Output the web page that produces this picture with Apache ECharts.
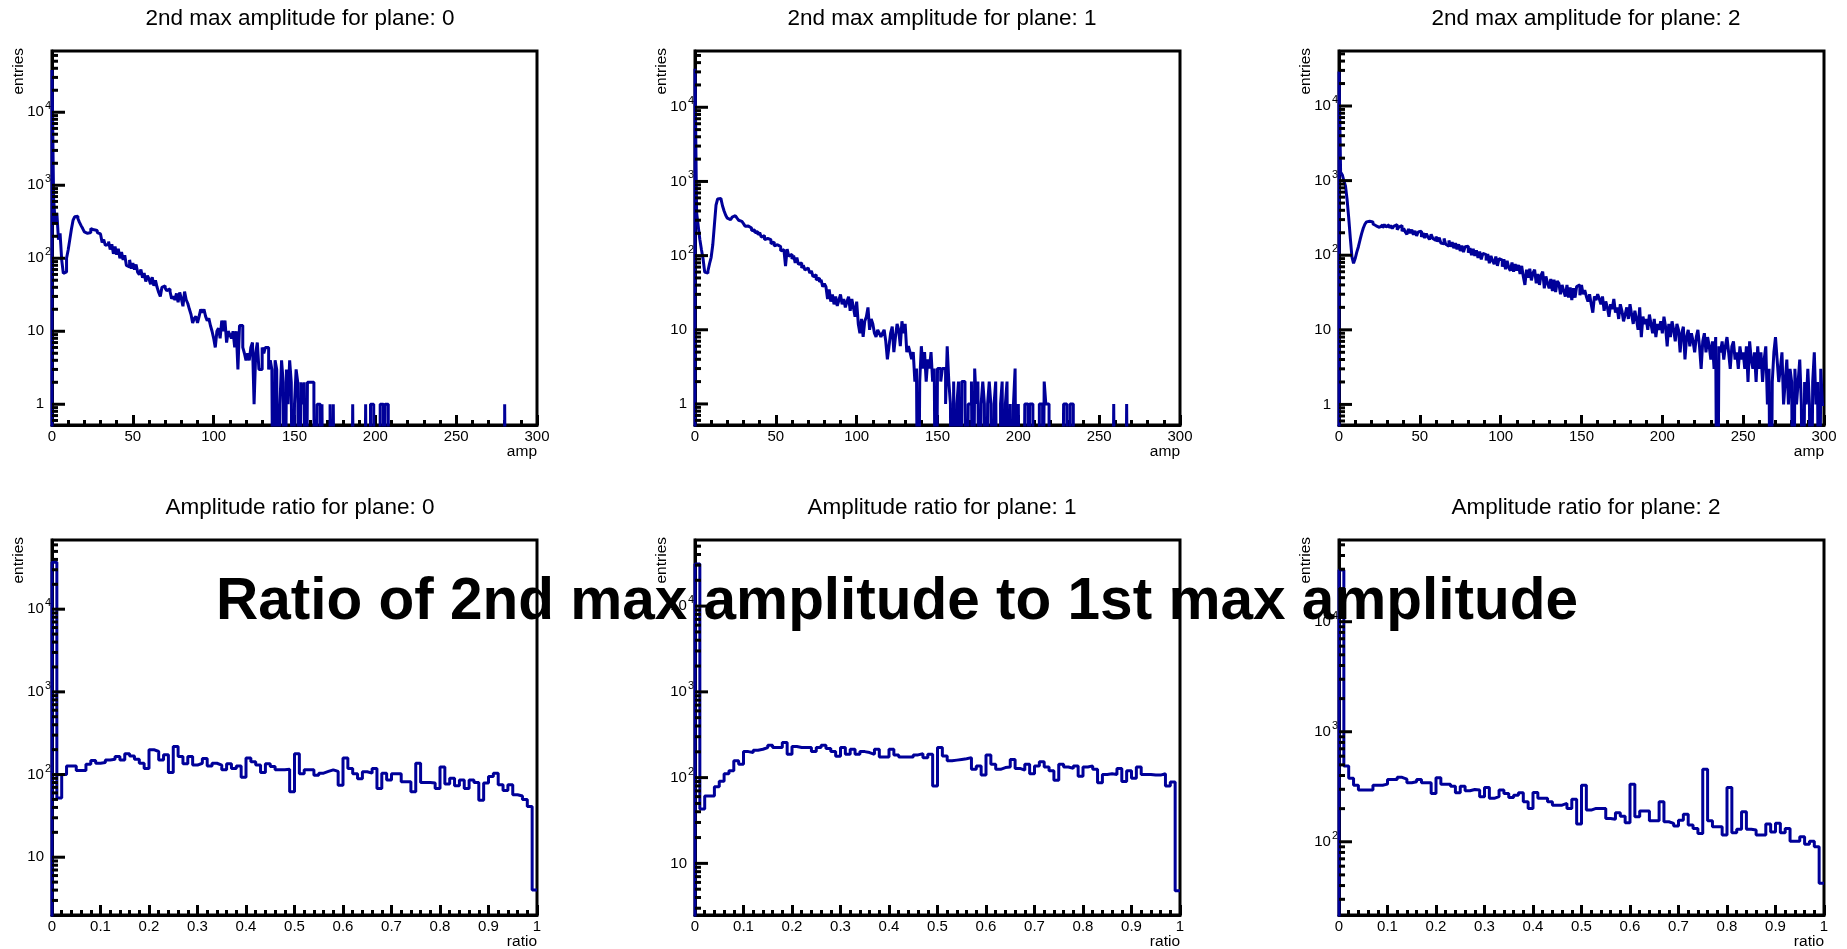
<!DOCTYPE html>
<html><head><meta charset="utf-8">
<script src="https://cdn.jsdelivr.net/npm/echarts@6/dist/echarts.min.js"></script>
<style>html,body{margin:0;padding:0;background:#fff}#c{width:1847px;height:949px}</style>
</head><body><div id="c"></div>
<script>
// ---------------- DATA ----------------
const AMP_MIN = 0, AMP_MAX = 300;      // amp histograms: 300 bins of width 1
const RATIO_MIN = 0, RATIO_MAX = 1;    // ratio histograms: 100 bins of width 0.01

const ampTitles = ['2nd max amplitude for plane: 0', '2nd max amplitude for plane: 1', '2nd max amplitude for plane: 2'];
const ratioTitles = ['Amplitude ratio for plane: 0', 'Amplitude ratio for plane: 1', 'Amplitude ratio for plane: 2'];
const mainTitle = 'Ratio of 2nd max amplitude to 1st max amplitude';
const ampTicks = [0, 50, 100, 150, 200, 250, 300];
const ratioTicks = [0, 0.1, 0.2, 0.3, 0.4, 0.5, 0.6, 0.7, 0.8, 0.9, 1];

const ampPlane0 = [
38000,650,300,420,180,220,95,62,65,100,
130,180,250,330,370,375,350,310,280,255,
230,220,212,225,255,245,235,240,225,215,
210,165,180,150,155,170,132,155,115,145,
112,135,100,122,95,110,80,76,95,72,
86,70,82,64,60,70,54,63,48,58,
52,44,55,42,50,40,34,30,40,42,
39,36,38,35,28,30,27,33,25,34,
28,22,35,27,24,20,17,13,15,16,
13,16,20,18,20,16,14,15,12,10,
8,6,10,11,8,14,10,14,7,10,
9,8,10,6,10,3,12,12,6,5,
4,5,4,6,7,1,5,7,3,3,
6,5,6,6,3,4,3,0,4,3,
0,1,4,2,0,3,1,4,2,0,
1,3,2,0,2,1,2,0,2,2,
2,2,1,0,1,1,0,1,0,0,
0,0,1,0,1,0,0,0,0,0,
0,0,0,0,0,0,1,0,0,0,
0,0,0,0,1,0,0,1,1,0,
0,0,0,1,1,0,1,1,0,0,
0,0,0,0,0,0,0,0,0,0,
0,0,0,0,0,0,0,0,0,0,
0,0,0,0,0,0,0,0,0,0,
0,0,0,0,0,0,0,0,0,0,
0,0,0,0,0,0,0,0,0,0,
0,0,0,0,0,0,0,0,0,0,
0,0,0,0,0,0,0,0,0,0,
1,0,0,0,0,0,0,0,0,0,
0,0,0,0,0,0,0,0,0,0];

const ampPlane1 = [
33000,380,250,165,120,90,60,58,62,78,
95,140,260,480,580,590,560,470,400,350,
320,305,310,330,345,340,320,300,290,280,
270,248,250,240,236,218,222,204,210,190,
205,178,186,165,170,160,164,145,152,135,
140,132,132,116,120,118,72,122,98,104,
90,100,80,94,76,80,68,74,64,68,
70,58,62,52,55,47,50,44,47,38,
42,38,26,35,24,30,22,28,21,25,
30,22,26,20,24,28,18,26,20,15,
24,12,9,14,8,13,15,20,10,14,
12,9,8,10,9,8,9,10,7,4,
6,9,11,5,8,12,10,6,13,9,
12,5,6,5,4,5,2,3,0,2,
6,3,5,2,4,3,5,2,3,0,
3,3,2,3,3,1,6,2,1,0,
2,0,1,2,0,2,2,1,0,1,
1,2,0,3,1,2,0,1,2,1,
0,1,2,1,0,1,2,0,0,1,
2,0,1,2,0,1,0,1,3,0,
1,0,0,0,1,1,0,1,1,0,
0,0,0,1,1,0,2,1,1,0,
0,0,0,0,0,0,0,0,1,1,
0,0,1,1,0,0,0,0,0,0,
0,0,0,0,0,0,0,0,0,0,
0,0,0,0,0,0,0,0,0,1,
0,0,0,0,0,0,0,1,0,0,
0,0,0,0,0,0,0,0,0,0,
0,0,0,0,0,0,0,0,0,0,
0,0,0,0,0,0,0,0,0,0];

const ampPlane2 = [
29000,1300,1200,1000,850,560,320,170,95,78,
90,110,130,160,195,230,260,280,285,275,
280,262,248,258,236,250,255,232,258,240,
255,232,250,228,246,256,220,238,250,210,
228,205,190,225,198,220,188,212,182,205,
210,176,198,170,195,176,162,190,168,158,
178,152,172,146,142,168,140,132,158,130,
150,124,145,120,140,114,134,110,130,132,
108,125,100,122,98,116,92,112,88,106,
102,85,104,78,98,84,76,96,72,90,
86,70,88,65,84,68,62,80,60,76,
62,74,56,72,52,40,64,50,66,46,
58,64,42,56,40,54,60,36,52,42,
36,48,33,47,32,45,42,30,40,33,
28,40,27,37,25,36,27,38,40,29,
40,30,34,28,24,30,22,17,28,25,
30,26,22,28,18,24,20,15,22,19,
26,17,20,14,22,18,13,16,20,14,
22,16,12,18,14,10,20,8,15,12,
14,10,16,12,9,14,8,12,10,13,
9,15,11,6,12,8,13,10,7,12,
10,5,9,11,4,8,10,6,9,7,
5,8,10,6,3,7,9,5,8,6,
4,7,3,8,0,6,5,7,4,6,
8,5,3,6,7,4,5,3,6,4,
5,3,6,2,7,4,3,5,2,6,
3,5,2,4,6,1,3,0,2,5,
8,4,2,3,5,1,2,4,1,3,
2,0,3,1,2,4,1,0,2,1,
3,1,0,2,5,1,2,0,3,1];

const ratioPlane0 = [
37000,52,100,127,127,112,112,133,148,137,
140,150,153,165,150,178,168,153,137,118,
200,190,150,173,106,218,165,135,165,130,
137,156,127,137,130,114,135,118,127,93,
158,143,130,106,135,125,114,114,116,62,
178,102,114,114,98,104,109,114,109,74,
159,118,102,89,108,104,118,68,104,86,
102,102,82,82,62,137,80,80,79,68,
123,77,90,73,86,68,86,80,49,79,
95,104,75,64,75,57,55,50,41,4];

const ratioPlane1 = [
31000,43,61,61,78,91,111,120,157,143,
201,196,209,214,224,238,224,224,256,187,
230,224,224,224,201,224,238,218,201,177,
224,187,214,187,201,196,187,214,174,174,
214,184,174,174,174,184,190,171,187,80,
224,179,157,160,163,166,171,125,137,107,
184,143,125,131,133,163,128,122,143,111,
137,153,133,120,93,143,133,128,137,104,
133,137,125,87,109,111,109,128,90,120,
98,133,109,109,107,107,111,80,89,4.8];

const ratioPlane2 = [
29500,488,377,327,295,295,295,327,327,334,
369,369,385,371,344,351,369,344,344,275,
382,334,334,320,279,320,291,299,295,257,
312,248,257,295,275,253,265,279,231,201,
281,248,248,231,215,215,223,201,243,145,
327,194,201,201,201,163,160,184,171,149,
334,169,190,190,155,155,231,152,147,139,
157,178,142,132,119,455,155,137,137,115,
312,121,130,187,130,128,115,115,145,123,
147,121,132,101,101,111,95,101,90,42];

// ---------------- LAYOUT / STYLE ----------------
const FONT = '"Liberation Sans", Arial, Helvetica, sans-serif';
const LINE_COLOR = '#000099';
const colLeft = [52, 695, 1339];
const plotW = 485;
const rowTop = [51, 540];
const plotH = [374, 375];
const titleCx = [300, 942, 1586];
const titleCy = [19, 508];
const yMinAmp = [0.52, 0.52, 0.53], yMaxAmp = [69000, 57400, 54600];
const yMinRatio = [2.0, 2.5, 21.6], yMaxRatio = [68700, 59000, 55300];

const ZERO = 1e-3; // empty bins are drawn down past the frame bottom (clipped)

function stepPoints(counts, lo, hi) {
  const w = (hi - lo) / counts.length;
  const pts = [[lo, ZERO]];
  counts.forEach((c, i) => pts.push([lo + i * w, c > 0 ? c : ZERO]));
  const last = counts[counts.length - 1];
  pts.push([hi, last > 0 ? last : ZERO]);
  return pts;
}
function logTickValues(lo, hi) {
  const out = [];
  for (let k = Math.floor(Math.log10(lo)); k <= Math.ceil(Math.log10(hi)); k++) {
    for (let m = 1; m <= 9; m++) {
      const v = m * Math.pow(10, k);
      if (v > lo && v < hi) out.push([0, v, m === 1 ? 1 : 0]);
    }
  }
  return out;
}

const panels = [];
for (let c = 0; c < 3; c++) panels.push({row: 0, col: c, data: [ampPlane0, ampPlane1, ampPlane2][c], lo: AMP_MIN, hi: AMP_MAX, interval: 50, ymin: yMinAmp[c], ymax: yMaxAmp[c], title: ampTitles[c], xname: 'amp'});
for (let c = 0; c < 3; c++) panels.push({row: 1, col: c, data: [ratioPlane0, ratioPlane1, ratioPlane2][c], lo: RATIO_MIN, hi: RATIO_MAX, interval: 0.1, ymin: yMinRatio[c], ymax: yMaxRatio[c], title: ratioTitles[c], xname: 'ratio'});

const grid = [], xAxis = [], yAxis = [], series = [], graphic = [];
panels.forEach((p, i) => {
  const left = colLeft[p.col], top = rowTop[p.row], h = plotH[p.row];
  grid.push({left: left, top: top, width: plotW, height: h, show: true, borderColor: '#000', borderWidth: 3, backgroundColor: 'transparent', containLabel: false, outerBoundsMode: 'none'});
  xAxis.push({
    type: 'value', gridIndex: i, min: p.lo, max: p.hi, interval: p.interval,
    axisLine: {show: true, onZero: false, lineStyle: {color: '#000', width: 3}},
    axisTick: {show: true, inside: true, length: 10, lineStyle: {color: '#000', width: 3}},
    minorTick: {show: true, splitNumber: 5, length: 5, lineStyle: {color: '#000', width: 3}},
    splitLine: {show: false}, minorSplitLine: {show: false},
    axisLabel: {show: true, color: '#000', fontSize: 15, fontFamily: FONT, margin: 4,
      formatter: v => p.hi === 1 ? String(Math.round(v * 10) / 10) : String(Math.round(v))}
  });
  yAxis.push({
    type: 'log', logBase: 10, gridIndex: i, min: p.ymin, max: p.ymax,
    axisLine: {show: true, onZero: false, lineStyle: {color: '#000', width: 3}},
    axisTick: {show: false}, splitLine: {show: false}, minorTick: {show: false},
    axisLabel: {show: true, margin: 1, showMinLabel: false, showMaxLabel: false,
      formatter: v => {
        const e = Math.log10(v), r = Math.round(e);
        if (Math.abs(e - r) > 1e-6) return '';
        if (r === 0) return '{b|1}';
        if (r === 1) return '{b|10}';
        return '{p|10}{s|' + r + '}';
      },
      rich: {
        b: {fontSize: 15, color: '#000', fontFamily: FONT, padding: [4, 7, 4, 0]},
        p: {fontSize: 15, color: '#000', fontFamily: FONT, padding: [4, 0, 4, 0]},
        s: {fontSize: 11, color: '#000', fontFamily: FONT, verticalAlign: 'top', padding: [0, 0, 0, 1]}
      }
    }
  });
  series.push({
    type: 'line', xAxisIndex: i, yAxisIndex: i, step: 'end', showSymbol: false, symbol: 'none',
    clip: true, silent: true, z: 3,
    lineStyle: {color: LINE_COLOR, width: 3},
    data: stepPoints(p.data, p.lo, p.hi)
  });
  series.push({
    type: 'custom', xAxisIndex: i, yAxisIndex: i, silent: true, z: 5, clip: false,
    encode: {x: 0, y: 1},
    data: logTickValues(p.ymin, p.ymax).map(t => [p.lo, t[1], t[2]]),
    renderItem: (params, api) => {
      const pt = api.coord([api.value(0), api.value(1)]);
      const len = api.value(2) ? 13 : 6;
      return {type: 'line', shape: {x1: pt[0], y1: pt[1], x2: pt[0] + len, y2: pt[1]}, style: {stroke: '#000', lineWidth: 3}};
    }
  });
  graphic.push({type: 'text', x: titleCx[p.col], y: titleCy[p.row], z: 10,
    style: {text: p.title, font: '22.5px ' + FONT, fill: '#000', align: 'center', verticalAlign: 'middle'}});
  graphic.push({type: 'text', x: left + plotW, y: top + h + 27, z: 10,
    style: {text: p.xname, font: '15.5px ' + FONT, fill: '#000', align: 'right', verticalAlign: 'middle'}});
  graphic.push({type: 'text', x: left - 33, y: top - 3, rotation: Math.PI / 2, z: 10,
    style: {text: 'entries', font: '15.5px ' + FONT, fill: '#000', align: 'right', verticalAlign: 'middle'}});
});
graphic.push({type: 'text', x: 897, y: 603, z: 100,
  style: {text: mainTitle, font: 'bold 58.5px ' + FONT, fill: '#000', align: 'center', verticalAlign: 'middle'}});

const chart = echarts.init(document.getElementById('c'), null, {renderer: 'canvas'});
chart.setOption({animation: false, backgroundColor: '#fff', grid, xAxis, yAxis, series, graphic});
</script></body></html>
